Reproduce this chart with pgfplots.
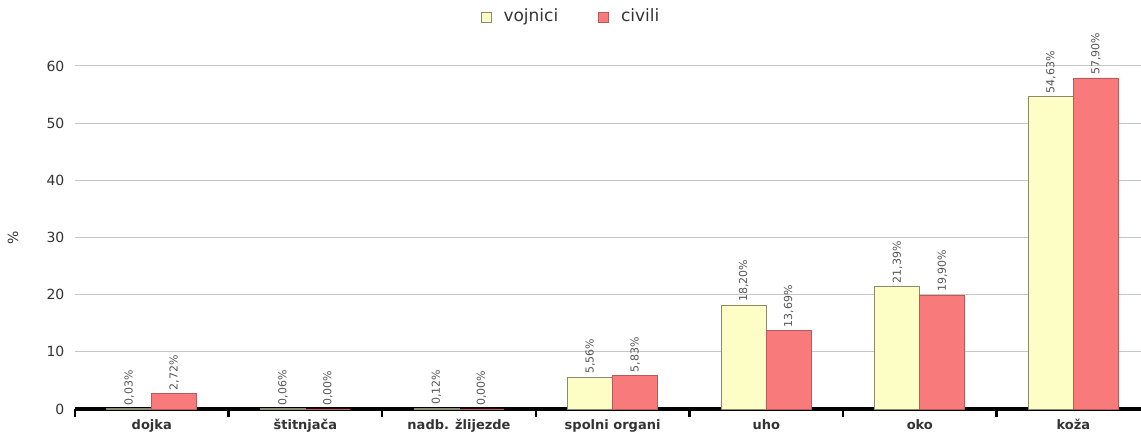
\documentclass[border=0pt]{standalone}
\usepackage{pgfplots}
\pgfplotsset{compat=1.18}
\usepackage{fontspec}
\setmainfont{DejaVu Sans}
\definecolor{voj}{HTML}{FDFDC6}
\definecolor{vojb}{HTML}{8A8A6A}
\definecolor{civ}{HTML}{F87A7A}
\definecolor{civb}{HTML}{B85A5A}
\definecolor{txt}{HTML}{333333}
\definecolor{vtxt}{HTML}{555555}
\begin{document}
\begin{tikzpicture}
\begin{axis}[
  scale only axis,
  width=533pt, height=171.5pt,
  xmin=-0.5, xmax=6.44,
  ymin=0, ymax=60,
  clip=false,
  ybar, bar width=0.293,
  xtick={0,...,6},
  xticklabels={dojka,štitnjača,nadb. žlijezde,spolni organi,uho,oko,koža},
  xticklabel style={font=\fontsize{6.5}{7}\selectfont\bfseries, text=txt, yshift=2.5pt},
  major x tick style={draw=none},
  minor xtick={-0.5,0.5,...,5.5},
  minor tick length=4pt,
  tick align=outside,
  minor x tick style={black, line width=1.2pt},
  ytick={0,10,...,60},
  ytick style={draw=none},
  yticklabel style={font=\fontsize{7}{8}\selectfont, text=txt, xshift=2.5pt},
  /pgf/number format/assume math mode=true,
  ymajorgrids,
  grid style={gray!45, line width=0.5pt},
  axis x line*=bottom,
  axis y line*=left,
  x axis line style={black, line width=1.6pt, -},
  y axis line style={draw=none},
  ylabel={\%},
  every axis y label/.style={at={(axis description cs:0,0.5)}, xshift=-31pt, rotate=90, anchor=center, font=\fontsize{7}{8}\selectfont, text=txt},
  nodes near coords={\pgfmathprintnumber[fixed,fixed zerofill,precision=2,use comma]{\pgfplotspointmeta}\%},
  every node near coord/.append style={rotate=90, anchor=west, font=\fontsize{5.5}{6}\selectfont, text=vtxt, inner sep=1.5pt},
  legend columns=2,
  legend style={draw=none, fill=none, at={(axis description cs:0.47,1)}, anchor=center, yshift=24.5pt, font=\fontsize{8.5}{10}\selectfont, text=txt, /tikz/every even column/.append style={column sep=14pt}, nodes={inner xsep=6pt}},
  legend image code/.code={\draw[#1] (0pt,-2.5pt) rectangle (5pt,2.5pt);},
]
\addplot[fill=voj, draw=vojb, line width=0.4pt, bar shift=-0.1465] coordinates {(0,0.03) (1,0.06) (2,0.12) (3,5.56) (4,18.20) (5,21.39) (6,54.63)};
\addplot[fill=civ, draw=civb, line width=0.4pt, bar shift=0.1465] coordinates {(0,2.72) (1,0.00) (2,0.00) (3,5.83) (4,13.69) (5,19.90) (6,57.90)};
\legend{vojnici, civili}
\coordinate (bl) at (rel axis cs:0,0);
\coordinate (tr) at (rel axis cs:1,1);
\end{axis}
\pgfresetboundingbox
\path ([shift={(-37.5pt,-15.5pt)}]bl) rectangle ([shift={(0pt,33pt)}]tr);
\end{tikzpicture}
\end{document}
